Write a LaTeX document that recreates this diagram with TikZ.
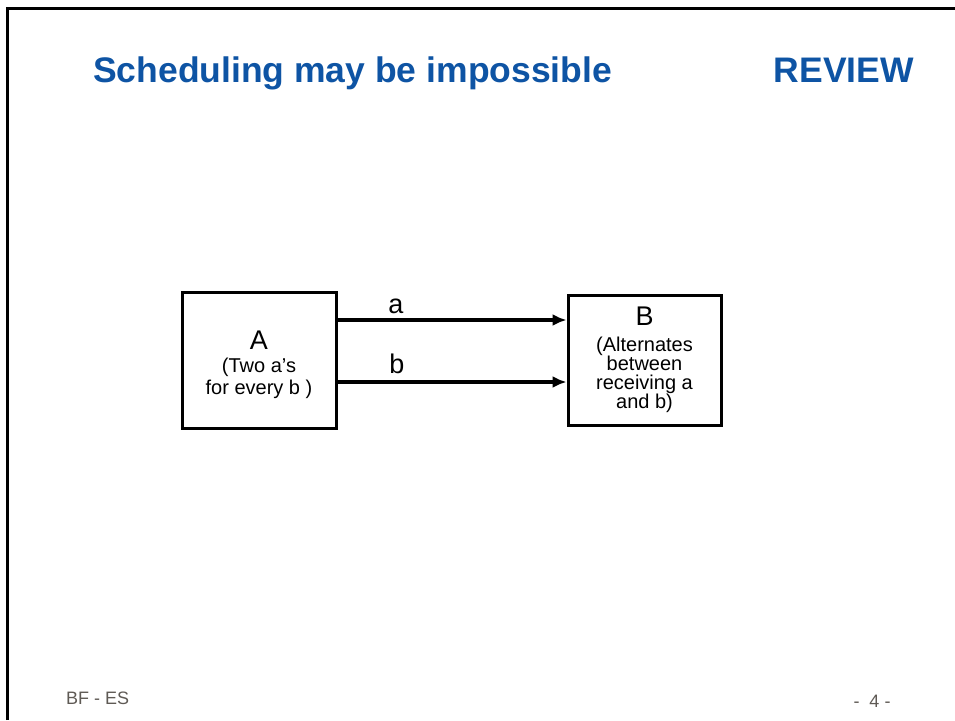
\documentclass[tikz,border=0pt]{standalone}
\usepackage{fontspec}
\setmainfont{Liberation Sans}
\usetikzlibrary{arrows.meta}
\definecolor{titleblue}{RGB}{14,84,164}
\definecolor{footgray}{RGB}{95,90,85}
\tikzset{
  procbox/.style={draw=black, line width=3pt, minimum width=154pt, minimum height=136pt, inner sep=0pt, align=center},
  flowarrow/.style={line width=3.2pt, -{Latex[length=14pt,width=12pt]}},
  chanlabel/.style={inner sep=0pt, font=\fontsize{27}{27}\selectfont},
  titletext/.style={inner sep=0pt, text=titleblue, font=\fontsize{35.5}{36}\selectfont\bfseries},
  foottext/.style={inner sep=0pt, text=footgray, font=\fontsize{18}{18}\selectfont}
}
\begin{document}
\begin{tikzpicture}[x=1pt,y=-1pt]
\useasboundingbox (0,0) rectangle (955,720);
% slide frame
\draw[line width=3pt] (7,720) -- (7,8) -- (955,8);
% titles
\node[titletext, anchor=base west] (title) at (93,82) {Scheduling may be impossible};
\node[titletext, anchor=base east] (review) at (914,82) {REVIEW};
% boxes
\node[procbox, font=\fontsize{20}{20}\selectfont] (A) at (259,360)
  {\rule{0pt}{28pt}{\fontsize{27}{27}\selectfont A}\\[3pt](Two a’s\\[2pt]for every b )};
\node[procbox, minimum width=153pt, minimum height=130pt, font=\fontsize{20}{18.5}\selectfont] (B) at (644.5,360)
  {{\fontsize{27}{27}\selectfont B}\\[7pt](Alternates\\between\\receiving a\\and b)};
% arrows
\coordinate (aStart) at ([yshift=40pt]A.east);
\coordinate (bStart) at ([yshift=-22pt]A.east);
\draw[flowarrow] (aStart) -- (B.west |- aStart);
\draw[flowarrow] (bStart) -- (B.west |- bStart);
\node[chanlabel, anchor=base] (la) at (396,313) {a};
\node[chanlabel, anchor=base] (lb) at (397,373) {b};
% footer
\node[foottext, anchor=base west] (foot) at (66,704) {BF - ES};
\node[foottext, anchor=base] (page) at (872,707) {-\ \ 4\ -};
\end{tikzpicture}
\end{document}
